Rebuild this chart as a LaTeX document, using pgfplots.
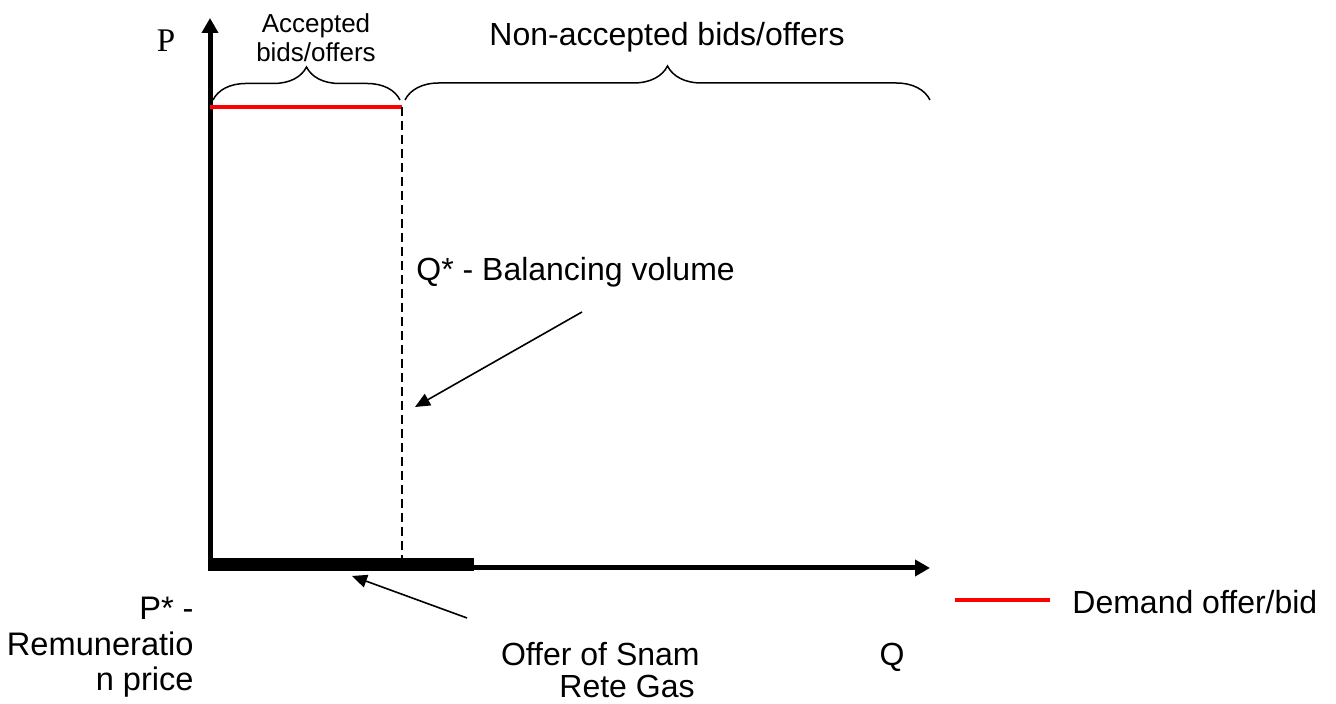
\documentclass[border=0pt]{standalone}
\usepackage{pgfplots}
\pgfplotsset{compat=1.18}
\usepackage{fontspec}
\setmainfont{Liberation Sans}
\newfontfamily\seriffont{Liberation Serif}
\usetikzlibrary{arrows.meta,decorations.pathreplacing}
\begin{document}
\begin{tikzpicture}
\begin{axis}[
  scale only axis, width=668pt, height=352pt,
  xmin=0, xmax=1336, ymin=0, ymax=704,
  axis lines=none, clip=false,
]
% thick bar (offer of Snam Rete Gas)
\addplot[fill=black, draw=none] coordinates {(208,133) (474,133) (474,146) (208,146)} -- cycle;
% axes
\addplot[line width=2.5pt, -{Triangle[length=7.5pt,width=8pt]}] coordinates {(210,133) (210,686)};
\addplot[line width=2.5pt, -{Triangle[length=7.5pt,width=8pt]}] coordinates {(208,136) (930,136)};
% demand line
\addplot[red, line width=2pt] coordinates {(210,597) (402,597)};
% dashed Q*
\addplot[black, line width=0.8pt, dash pattern=on 4.5pt off 2.5pt] coordinates {(402,597) (402,140)};
% arrows
\addplot[black, line width=0.8pt, -{Triangle[length=7.5pt,width=6.5pt]}] coordinates {(582,392) (415,297)};
\addplot[black, line width=0.8pt, -{Triangle[length=7.5pt,width=6.5pt]}] coordinates {(467,86) (352,128)};
% legend line
\addplot[red, line width=2pt] coordinates {(955,104) (1050,104)};
% braces
\draw[line width=0.75pt, decorate, decoration={brace, amplitude=16.5pt}] (axis cs:213,604) -- (axis cs:400,604);
\draw[line width=0.75pt, decorate, decoration={brace, amplitude=17pt}] (axis cs:405,604) -- (axis cs:930,604);
% texts
\node[anchor=base, font=\seriffont\fontsize{16.5}{18}\selectfont, inner sep=0pt] at (axis cs:166,652) {P};
\node[anchor=base, font=\fontsize{13}{16}\selectfont] at (axis cs:316,671) {Accepted};
\node[anchor=base, font=\fontsize{13}{16}\selectfont] at (axis cs:316,642) {bids/offers};
\node[anchor=base, font=\fontsize{16}{19}\selectfont] at (axis cs:667,658) {Non-accepted bids/offers};
\node[anchor=base west, font=\fontsize{16}{19}\selectfont, inner sep=0pt] at (axis cs:416,423) {Q* - Balancing volume};
\node[anchor=base east, font=\fontsize{16.3}{19}\selectfont, inner sep=0pt] at (axis cs:194,84) {P* -};
\node[anchor=base east, font=\fontsize{16.3}{19}\selectfont, inner sep=0pt] at (axis cs:194,48) {Remuneratio};
\node[anchor=base east, font=\fontsize{16.3}{19}\selectfont, inner sep=0pt] at (axis cs:194,13) {n price};
\node[anchor=base east, font=\fontsize{16}{19}\selectfont, inner sep=0pt] at (axis cs:700,38) {Offer of Snam};
\node[anchor=base, font=\fontsize{16}{19}\selectfont, inner sep=0pt] at (axis cs:627,6) {Rete Gas};
\node[anchor=base, font=\fontsize{16}{19}\selectfont, inner sep=0pt] at (axis cs:892,38) {Q};
\node[anchor=base west, font=\fontsize{16}{19}\selectfont, inner sep=0pt] at (axis cs:1072,90) {Demand offer/bid};
\end{axis}
\pgfresetboundingbox
\path (current axis.south west) rectangle (current axis.north east);
\end{tikzpicture}
\end{document}
